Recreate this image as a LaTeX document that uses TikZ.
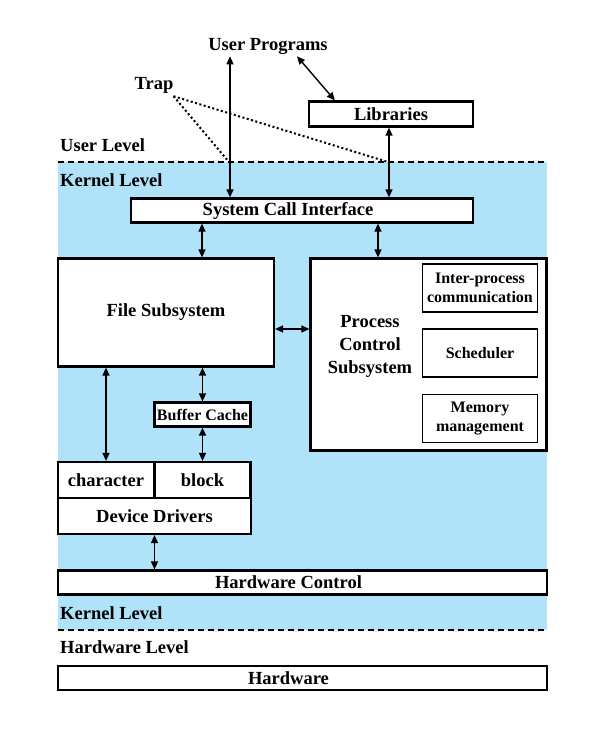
\documentclass[tikz,border=0pt]{standalone}
\usepackage{fontspec}
\setmainfont{Liberation Serif}
\usetikzlibrary{arrows.meta}
\definecolor{kernelblue}{RGB}{176,226,250}
\tikzset{
  bigfont/.style={font=\bfseries\fontsize{18.5}{23}\selectfont},
  smallfont/.style={font=\bfseries\fontsize{16}{19}\selectfont},
  box/.style={draw, line width=2.2pt, fill=white, inner sep=0pt, bigfont},
  subbox/.style={draw, line width=1.5pt, fill=white, inner sep=0pt, align=center, smallfont},
  lbl/.style={inner sep=0pt, bigfont},
  link/.style={{Triangle[length=8pt,width=7pt]}-{Triangle[length=8pt,width=7pt]}, line width=1.4pt},
  levelline/.style={line width=2pt, dash pattern=on 6pt off 4pt},
  trapline/.style={line width=2pt, dash pattern=on 2pt off 2.5pt}
}
\begin{document}
\begin{tikzpicture}[x=1pt,y=-1pt]
  \useasboundingbox (0,0) rectangle (596,737);
  % kernel area
  \fill[kernelblue] (58,162) rectangle (547,630);
  \draw[levelline] (58,162) -- (547,162);
  \draw[levelline] (58,630) -- (547,630);

  % level names
  \node[lbl, anchor=west] (ulevel) at (60,145) {User Level};
  \node[lbl, anchor=west] (klevel) at (60,180) {Kernel Level};
  \node[lbl, anchor=west] (klevelb) at (60,613) {Kernel Level};
  \node[lbl, anchor=west] (hlevel) at (60,647) {Hardware Level};

  % user side
  \node[lbl] (upg) at (268,46) {User Programs};
  \node[lbl] (trap) at (154,85) {Trap};
  \node[box, minimum width=164, minimum height=25] (lib) at (391,114) {Libraries};

  % kernel blocks
  \node[box, minimum width=342, minimum height=24, label={[lbl, xshift=-14pt]center:System Call Interface}] (sci) at (302,210.5) {};
  \node[box, minimum width=216, minimum height=108] (fs) at (166,312.5) {File Subsystem};
  \node[box, minimum width=236, minimum height=192] (pcs) at (428.5,354.5) {};
  \node[lbl, align=center] (pcstext) at (370,346) {Process\\Control\\Subsystem};
  \node[subbox, minimum width=115, minimum height=48] (ipc) at (480,288) {Inter-process\\communication};
  \node[subbox, minimum width=115, minimum height=48] (sched) at (480,353) {Scheduler};
  \node[subbox, minimum width=115, minimum height=48] (mem) at (480,418.5) {Memory\\management};
  \node[subbox, line width=2.2pt, minimum width=96, minimum height=24] (bcache) at (202.5,414.5) {Buffer Cache};
  \node[box, minimum width=96, minimum height=36] (chr) at (106,480) {character};
  \node[box, minimum width=96, minimum height=36] (blk) at (202.5,480) {block};
  \node[box, minimum width=192.5, minimum height=36] (ddrv) at (154.5,516) {Device Drivers};
  \node[box, minimum width=489, minimum height=24, label={[lbl, xshift=-14pt]center:Hardware Control}] (hwc) at (302.5,582.5) {};

  % hardware
  \node[box, minimum width=489, minimum height=24, label={[lbl, xshift=-14pt]center:Hardware}] (hw) at (302.5,678) {};

  % connectors
  \draw[link, shorten <=2pt] (upg.south -| 230,0) -- (230,0 |- sci.north);
  \draw[link] ([xshift=29pt,yshift=-2pt]upg.south) -- ([xshift=27pt]lib.north west);
  \draw[link] (lib.south -| 389,0) -- (389,0 |- sci.north);
  \coordinate (trapA) at (229,162);
  \coordinate (trapB) at (388,162);
  \draw[trapline] ([yshift=-3pt]trap.south east) -- (trapA);
  \draw[trapline] ([yshift=-3pt]trap.south east) -- (trapB);
  \draw[link] (sci.south -| 202,0) -- (202,0 |- fs.north);
  \draw[link] (sci.south -| 378,0) -- (378,0 |- pcs.north);
  \draw[link] (fs.east |- 0,329) -- (pcs.west |- 0,329);
  \draw[link] (fs.south -| chr.south) -- (chr.north);
  \draw[link] (fs.south -| bcache.north) -- (bcache.north);
  \draw[link] (bcache.south) -- (bcache.south |- blk.north);
  \draw[link] (ddrv.south) -- (ddrv.south |- hwc.north);
\end{tikzpicture}
\end{document}
